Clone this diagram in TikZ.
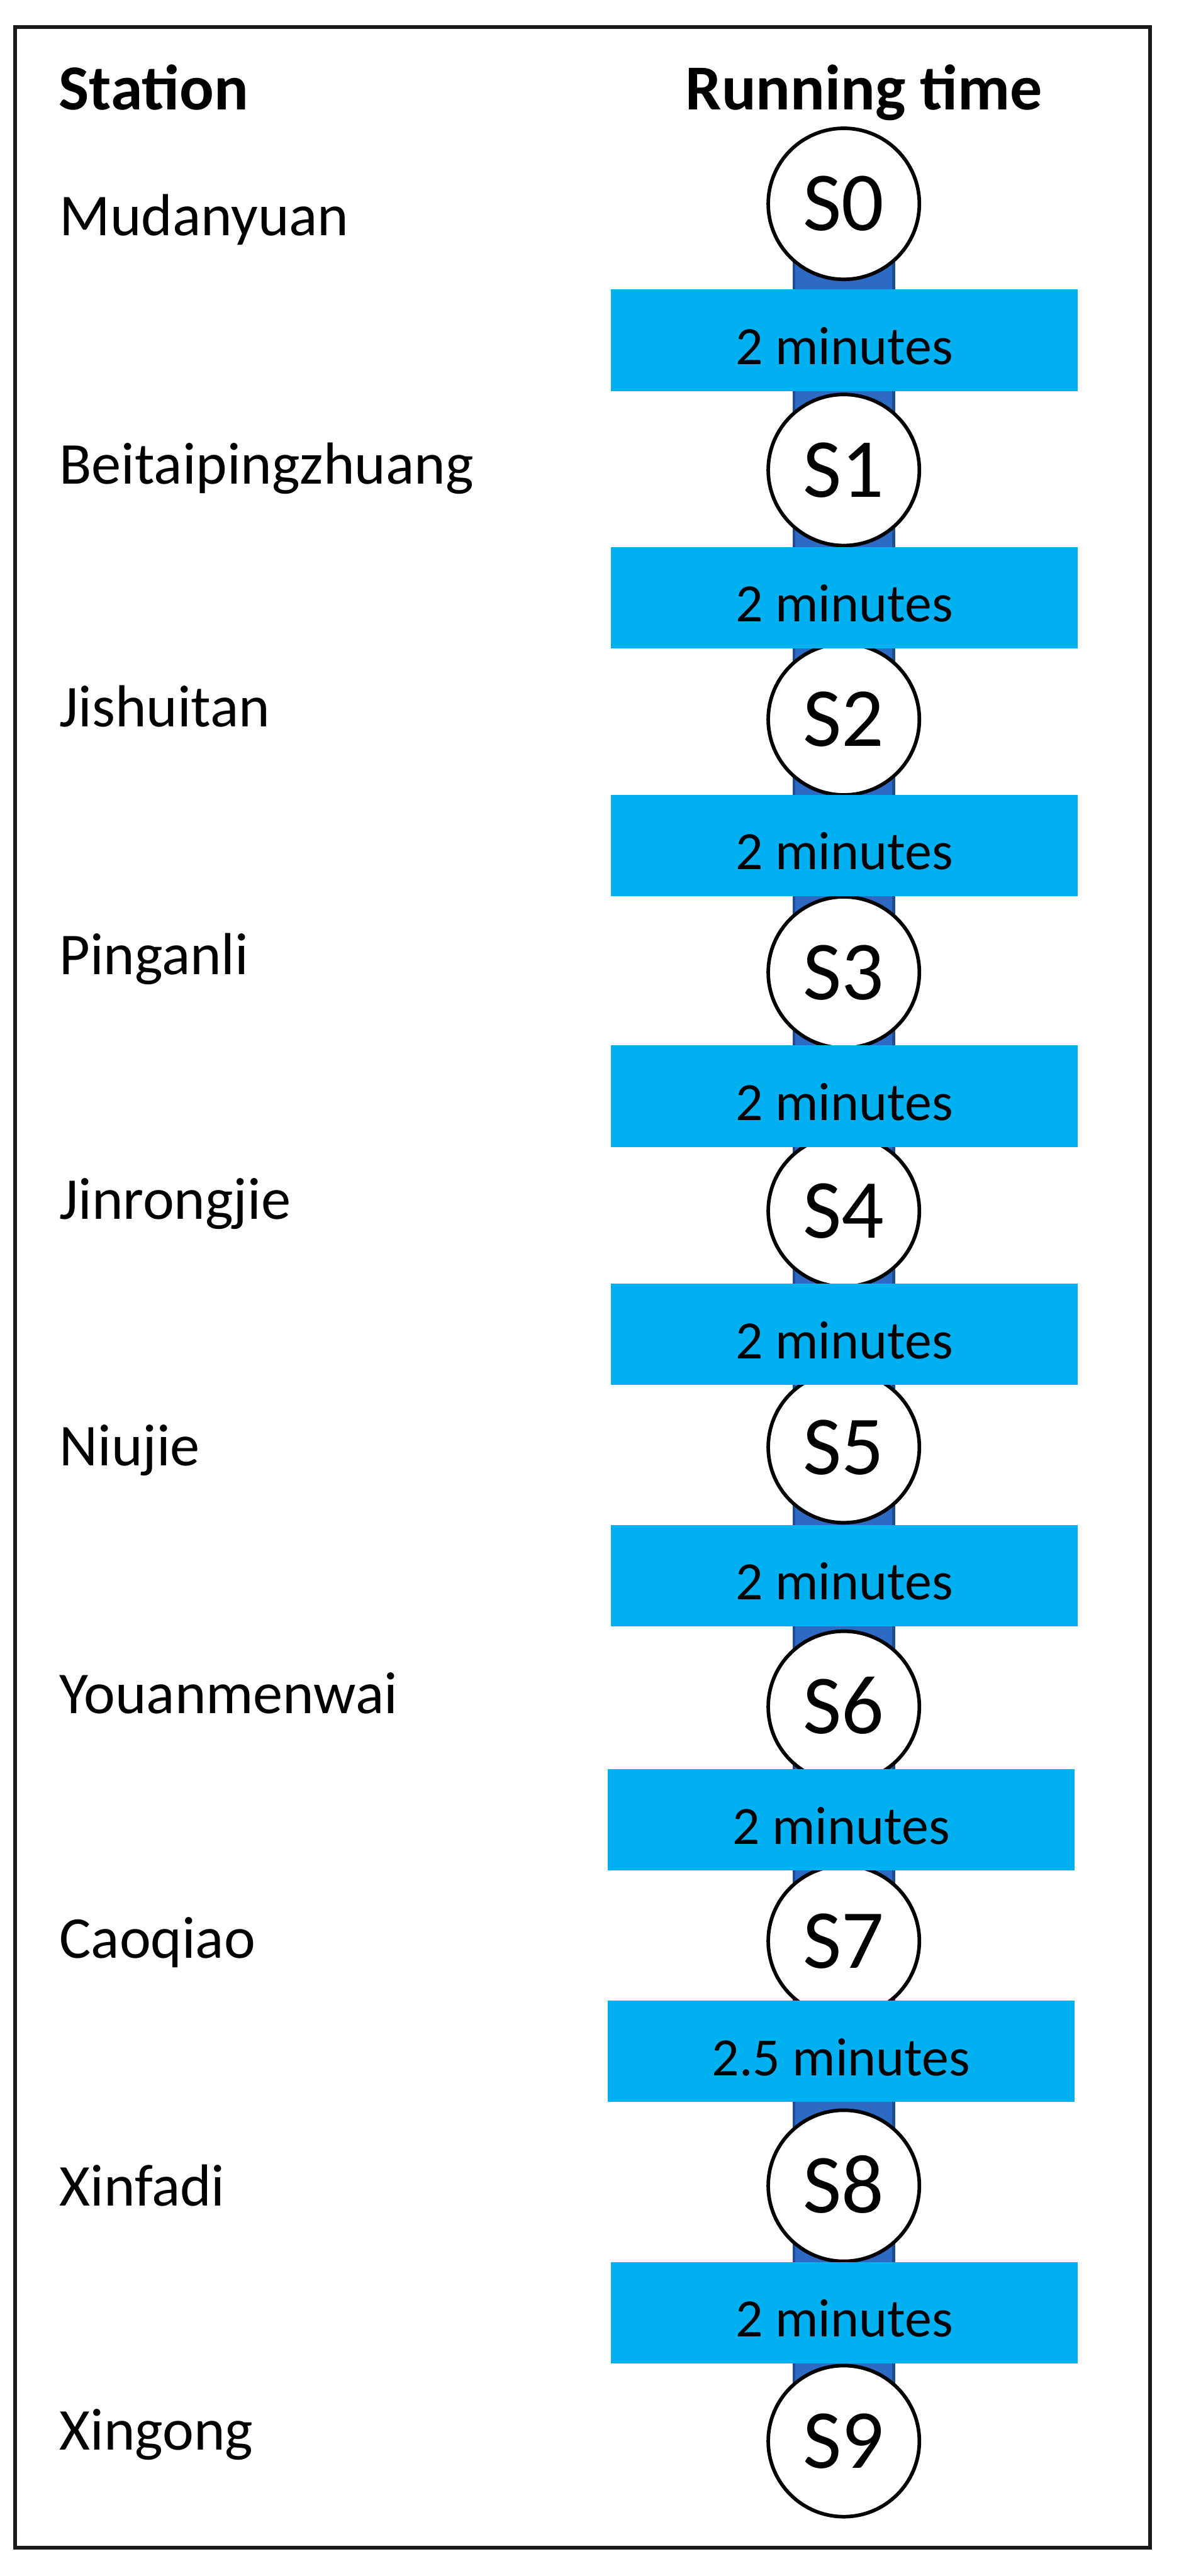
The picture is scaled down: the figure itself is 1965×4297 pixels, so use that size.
\documentclass[tikz,border=0pt]{standalone}
\usepackage{fontspec}
\setmainfont{Carlito}
\usetikzlibrary{backgrounds}
\definecolor{segblue}{HTML}{00B0F0}
\definecolor{barblue}{HTML}{2C6AC4}
\definecolor{barline}{HTML}{1F4E8F}
\definecolor{framecol}{HTML}{1A1A1A}
\begin{document}
\begin{tikzpicture}[x=1pt,y=-1pt,
  stn/.style={circle,draw=black,line width=6pt,fill=white,minimum size=252pt,inner sep=0pt,
    font=\fontsize{140}{150}\selectfont,text height=90pt,text depth=0pt},
  seg/.style={rectangle,fill=segblue,inner sep=0pt,minimum height=169pt,
    font=\fontsize{90}{100}\selectfont,text height=81pt,text depth=0pt},
  lbl/.style={anchor=base west,inner sep=0pt,font=\fontsize{99}{110}\selectfont},
  hdr/.style={anchor=base west,inner sep=0pt,font=\fontsize{107}{118}\selectfont\bfseries}]
\useasboundingbox (0,0) rectangle (1965,4297);

% headers
\node[hdr] (hstation) at (98,183) {Station};
\node[hdr] (hrun) at (1143,183) {Running time};

% station names
\node[lbl] (n0) at (99,393) {Mudanyuan};
\node[lbl] (n1) at (99,807) {Beitaipingzhuang};
\node[lbl] (n2) at (99,1212) {Jishuitan};
\node[lbl] (n3) at (99,1625) {Pinganli};
\node[lbl] (n4) at (99,2034) {Jinrongjie};
\node[lbl] (n5) at (99,2445) {Niujie};
\node[lbl] (n6) at (99,2858) {Youanmenwai};
\node[lbl] (n7) at (99,3266) {Caoqiao};
\node[lbl] (n8) at (99,3680) {Xinfadi};
\node[lbl] (n9) at (99,4087) {Xingong};

% station circles
\node[stn] (s0) at (1407,340) {S0};
\node[stn] (s1) at (1407,784) {S1};
\node[stn] (s2) at (1407,1200) {S2};
\node[stn] (s3) at (1407,1622) {S3};
\node[stn] (s4) at (1407,2020) {S4};
\node[stn] (s5) at (1407,2414) {S5};
\node[stn] (s6) at (1407,2847) {S6};
\node[stn] (s7) at (1407,3238) {S7};
\node[stn] (s8) at (1407,3646) {S8};
\node[stn] (s9) at (1407,4072) {S9};

% running time boxes
\node[seg,minimum width=778pt] (r1) at (1408,567.5) {2 minutes};
\node[seg,minimum width=778pt] (r2) at (1408,997) {2 minutes};
\node[seg,minimum width=778pt] (r3) at (1408,1410) {2 minutes};
\node[seg,minimum width=778pt] (r4) at (1408,1828.5) {2 minutes};
\node[seg,minimum width=778pt] (r5) at (1408,2225.5) {2 minutes};
\node[seg,minimum width=778pt] (r6) at (1408,2628) {2 minutes};
\node[seg,minimum width=779pt] (r7) at (1402.5,3035.5) {2 minutes};
\node[seg,minimum width=779pt] (r8) at (1402.5,3421.5) {2.5 minutes};
\node[seg,minimum width=778pt] (r9) at (1408,3857.5) {2 minutes};

% frame
\draw[framecol,line width=6pt] (25,45) rectangle (1918,4250);

\begin{scope}[on background layer]
  \fill[white] (0,0) rectangle (1965,4297);
  \draw[barline,line width=171pt] (s0.center) -- (s9.center);
  \draw[barblue,line width=161pt] (s0.center) -- (s9.center);
\end{scope}
\end{tikzpicture}
\end{document}
